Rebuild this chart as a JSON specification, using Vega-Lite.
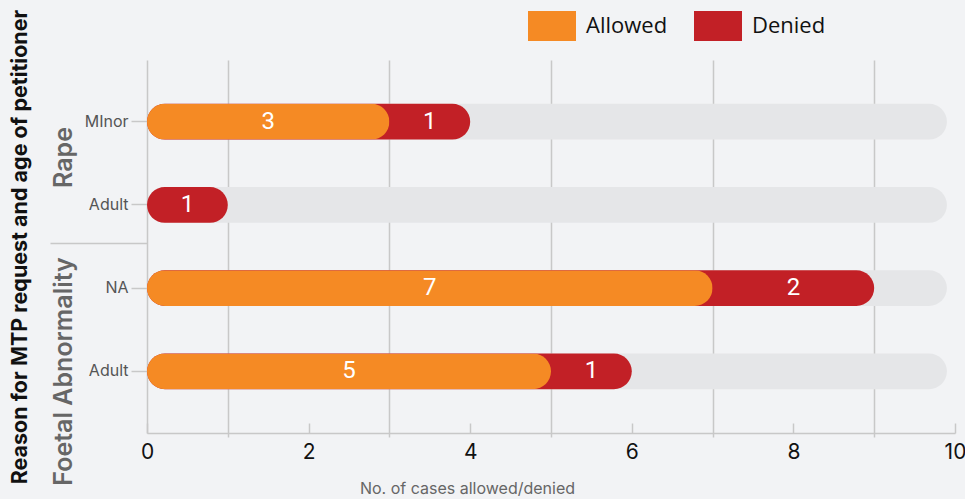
{
  "$schema": "https://vega.github.io/schema/vega-lite/v6.json",
  "width": 808,
  "height": 373,
  "autosize": {"type": "none"},
  "padding": {"left": 147, "top": 60, "right": 10, "bottom": 66},
  "background": "#f2f3f5",
  "config": {"view": {"stroke": null}, "axis": {"grid": false}},
  "datasets": {
    "cases": [
      {"reason": "Rape", "age": "MInor", "row": "Rape|MInor", "status": "Allowed", "count": 3},
      {"reason": "Rape", "age": "MInor", "row": "Rape|MInor", "status": "Denied", "count": 1},
      {"reason": "Rape", "age": "Adult", "row": "Rape|Adult", "status": "Denied", "count": 1},
      {"reason": "Foetal Abnormality", "age": "NA", "row": "Foetal Abnormality|NA", "status": "Allowed", "count": 7},
      {"reason": "Foetal Abnormality", "age": "NA", "row": "Foetal Abnormality|NA", "status": "Denied", "count": 2},
      {"reason": "Foetal Abnormality", "age": "Adult", "row": "Foetal Abnormality|Adult", "status": "Allowed", "count": 5},
      {"reason": "Foetal Abnormality", "age": "Adult", "row": "Foetal Abnormality|Adult", "status": "Denied", "count": 1}
    ]
  },
  "data": {"name": "cases"},
  "layer": [
    {
      "encoding": {
        "y": {
          "field": "row",
          "type": "nominal",
          "scale": {
            "domain": ["Rape|MInor", "Rape|Adult", "Foetal Abnormality|NA", "Foetal Abnormality|Adult"],
            "paddingInner": 0.57,
            "paddingOuter": 0.526
          },
          "axis": {
            "title": null,
            "labelExpr": "split(datum.label, '|')[1]",
            "labelFont": "Inter",
            "labelFontSize": 16,
            "labelColor": "#555555",
            "labelPadding": 3,
            "tickSize": 16,
            "tickColor": "#c8c8c8",
            "tickWidth": 1.5,
            "domainColor": "#c8c8c8",
            "domainWidth": 1.5,
            "grid": false
          }
        }
      },
      "layer": [
        {
          "transform": [{"aggregate": [{"op": "count", "as": "n"}], "groupby": ["row"]}],
          "mark": {"type": "bar", "cornerRadius": 18, "color": "#e5e6e8"},
          "encoding": {
            "x": {
              "datum": 9.9,
              "type": "quantitative",
              "scale": {"domain": [0, 10], "nice": false, "zero": true},
              "axis": {
                "values": [0, 1, 2, 3, 4, 5, 6, 7, 8, 9, 10],
                "format": "d",
                "labelExpr": "datum.value % 2 === 0 ? datum.label : ''",
                "labelFlush": false,
                "labelFont": "Inter",
                "labelFontSize": 21,
                "labelColor": "#111111",
                "labelPadding": 18,
                "title": "No. of cases allowed/denied",
                "titleFont": "Inter",
                "titleFontSize": 16,
                "titleFontWeight": "normal",
                "titleColor": "#666666",
                "titleX": 320,
                "titleY": 55,
                "titleBaseline": "middle",
                "grid": true,
                "gridColor": "#c8c8c8",
                "gridWidth": 1.5,
                "gridOpacity": {"condition": {"test": "datum.value % 2 === 1", "value": 1}, "value": 0},
                "tickColor": "#c8c8c8",
                "tickWidth": 1.5,
                "tickSize": {"condition": {"test": "datum.value % 2 === 1", "value": 4}, "value": -10},
                "domainColor": "#c8c8c8",
                "domainWidth": 1.5
              }
            },
            "x2": {"datum": 0}
          }
        },
        {
          "mark": {"type": "bar", "cornerRadius": 18},
          "encoding": {
            "x": {"aggregate": "sum", "field": "count", "type": "quantitative"},
            "color": {
              "datum": "Denied",
              "type": "nominal",
              "scale": {"domain": ["Allowed", "Denied"], "range": ["#f58a24", "#c22026"]},
              "legend": {
                "orient": "none",
                "legendX": 390,
                "legendY": -49,
                "direction": "horizontal",
                "title": null,
                "symbolType": "M-1.6,-1H1.6V1H-1.6Z",
                "symbolSize": 900,
                "symbolStrokeWidth": 0,
                "symbolOpacity": 1,
                "labelFont": "Open Sans",
                "labelFontSize": 22,
                "labelColor": "#111111",
                "labelOffset": 19,
                "columnPadding": 26,
                "padding": 0
              }
            }
          }
        },
        {
          "transform": [{"filter": "datum.status === 'Allowed'"}],
          "mark": {"type": "bar", "cornerRadius": 18},
          "encoding": {
            "x": {"field": "count", "type": "quantitative"},
            "color": {"datum": "Allowed", "type": "nominal"}
          }
        },
        {
          "transform": [
            {"stack": "count", "groupby": ["row"], "sort": [{"field": "status", "order": "ascending"}], "as": ["s0", "s1"]},
            {"fold": ["s0", "s1"], "as": ["edge", "pos"]}
          ],
          "mark": {"type": "text", "color": "white", "font": "Roboto", "fontSize": 24, "align": "center", "baseline": "middle"},
          "encoding": {
            "x": {"aggregate": "mean", "field": "pos", "type": "quantitative"},
            "detail": {"field": "status", "type": "nominal"},
            "text": {"field": "count", "type": "quantitative"}
          }
        }
      ]
    },
    {
      "mark": {"type": "text", "text": ""},
      "encoding": {
        "y": {
          "field": "reason",
          "type": "nominal",
          "scale": {"domain": ["Rape", "Foetal Abnormality"], "paddingInner": 0, "paddingOuter": 0.166, "align": 0.434},
          "axis": {
            "orient": "left",
            "title": "Reason for MTP request and age of petitioner",
            "titleFont": "Inter",
            "titleFontSize": 21.5,
            "titleFontWeight": "bold",
            "titleColor": "#111111",
            "titlePadding": 18,
            "domain": false,
            "tickBand": "extent",
            "tickSize": 97,
            "tickColor": "#c8c8c8",
            "tickWidth": 1.5,
            "tickOpacity": {"condition": {"test": "datum.index === 0", "value": 1}, "value": 0},
            "labelAngle": -90,
            "labelAlign": "center",
            "labelBaseline": "bottom",
            "labelPadding": -26,
            "labelOffset": {"condition": {"test": "datum.value === 'Foetal Abnormality'", "value": 48}, "value": -6},
            "labelLimit": 400,
            "labelFont": "Inter",
            "labelFontSize": 25,
            "labelFontWeight": 600,
            "labelColor": "#666666",
            "grid": false
          }
        }
      }
    }
  ],
  "resolve": {"scale": {"y": "independent"}, "axis": {"y": "independent"}}
}
